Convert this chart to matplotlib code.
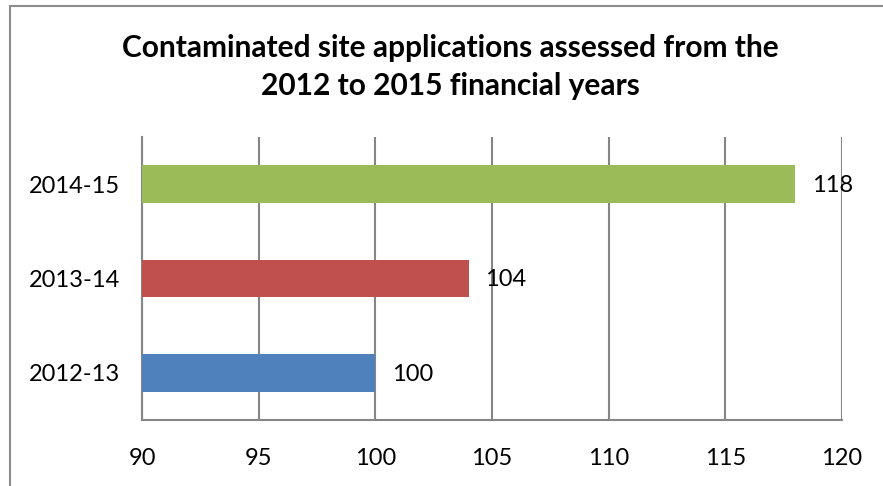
import matplotlib.pyplot as plt
from matplotlib.patches import Rectangle

years = ["2012-13", "2013-14", "2014-15"]
assessed = [100, 104, 118]
bar_colors = ["#4F81BD", "#C0504D", "#9BBB59"]
x_ticks = [90, 95, 100, 105, 110, 115, 120]

plt.rcParams["font.family"] = ["Lato", "DejaVu Sans"]

fig = plt.figure(figsize=(8.83, 4.86), dpi=100)
ax = fig.add_axes([142 / 883, 66 / 486, 700 / 883, 283 / 486])

# chart border (clipped at right/bottom like the source screenshot)
fig.patches.append(Rectangle((10 / 883, -0.1), 1.2, (480 / 486) + 0.1,
                             transform=fig.transFigure, fill=False,
                             edgecolor="#8C8C8C", linewidth=1.5))

pos = range(len(years))
ax.barh(pos, [v - 90 for v in assessed], left=90, height=0.4,
        color=bar_colors, zorder=3)
for p, v in zip(pos, assessed):
    ax.annotate(str(v), (v, p), xytext=(12, -1), textcoords="offset points",
                ha="left", va="center", fontsize=17, zorder=4)

ax.set_xlim(90, 120)
ax.set_ylim(-0.5, 2.5)
ax.set_xticks(x_ticks)
ax.set_yticks(list(pos))
ax.set_yticklabels(years)
ax.tick_params(axis="both", length=0, labelsize=17)
ax.tick_params(axis="x", pad=20)
ax.tick_params(axis="y", pad=16)
ax.grid(axis="x", color="#868686", linewidth=1.5, zorder=0)
for s in ["top", "right"]:
    ax.spines[s].set_visible(False)
for s in ["left", "bottom"]:
    ax.spines[s].set_color("#868686")
    ax.spines[s].set_linewidth(1.5)

fig.text(450 / 883, 1 - 67 / 486,
         "Contaminated site applications assessed from the\n2012 to 2015 financial years",
         ha="center", va="center", fontsize=21.5, fontweight="bold", linespacing=1.45)

fig.savefig("out.png", dpi=100)
